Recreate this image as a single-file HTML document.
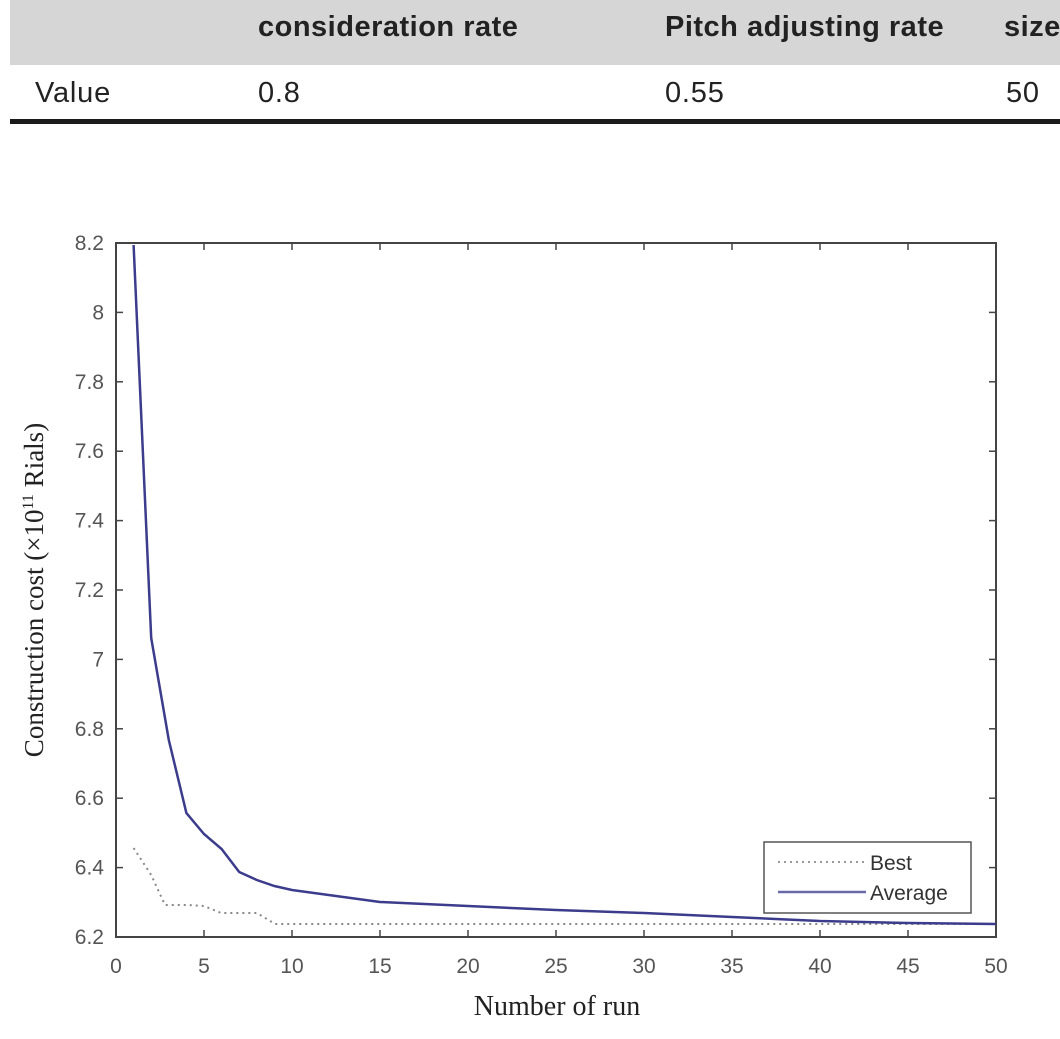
<!DOCTYPE html>
<html><head><meta charset="utf-8"><style>
body{margin:0;background:#fff;width:1060px;height:1039px;overflow:hidden;position:relative;font-family:"Liberation Sans",sans-serif}
.hdr{position:absolute;left:10px;top:0;width:1050px;height:65px;background:#d6d6d6}
.t{position:absolute;font-size:29px;color:#222;white-space:nowrap;letter-spacing:0.8px}
.b{font-weight:bold;letter-spacing:0.5px}
.rule{position:absolute;left:10px;top:119px;width:1050px;height:5px;background:#1a1a1a}
</style></head><body>
<div class="hdr"></div>
<div class="t b" style="left:258px;top:11px">consideration rate</div>
<div class="t b" style="left:665px;top:11px">Pitch adjusting rate</div>
<div class="t b" style="left:1004px;top:11px">size</div>
<div class="t" style="left:35px;top:77px">Value</div>
<div class="t" style="left:258px;top:77px">0.8</div>
<div class="t" style="left:665px;top:77px">0.55</div>
<div class="t" style="left:1006px;top:77px">50</div>
<div class="rule"></div>
<svg width="1060" height="1039" style="position:absolute;left:0;top:0">
<g stroke="#444" stroke-width="2" fill="none">
<rect x="116" y="243" width="880" height="694"/>
</g>
<g stroke="#444" stroke-width="1.5" id="ticks"></g>
<g font-family="Liberation Sans,sans-serif" font-size="21" fill="#555" id="labels"></g>
<polyline fill="none" stroke="#888" stroke-width="2" stroke-dasharray="2,4" points="133.6,848 151.2,875 165,905 187,905 204,906 221,913 240,913 257,913 275,924 996,924"/>
<polyline fill="none" stroke="#3c3c8c" stroke-width="2.5" points="133.6,245 151.2,638 168.8,740 186.4,813 204,834 221.6,849 239.2,872 256.8,880 274.4,886 292,890 380,902 468,906 556,910 644,913 732,917 820,921 908,923 996,924"/>
<rect x="764" y="842" width="207" height="71" fill="#fff" stroke="#555" stroke-width="1.5"/>
<line x1="778" y1="862" x2="866" y2="862" stroke="#999" stroke-width="2" stroke-dasharray="2,4"/>
<line x1="778" y1="892" x2="866" y2="892" stroke="#6a6aaa" stroke-width="2.5"/>
<text x="870" y="870" font-family="Liberation Sans,sans-serif" font-size="21" fill="#333">Best</text>
<text x="870" y="900" font-family="Liberation Sans,sans-serif" font-size="21" fill="#333">Average</text>
<text x="557" y="1015" text-anchor="middle" font-family="Liberation Serif,serif" font-size="28" fill="#222">Number of run</text>
<text transform="translate(43,590) rotate(-90)" text-anchor="middle" font-family="Liberation Serif,serif" font-size="27" fill="#222">Construction cost (×10<tspan font-size="16" dy="-10">11</tspan><tspan dy="10"> Rials)</tspan></text>
</svg>
<script>
var t=document.getElementById('ticks'),l=document.getElementById('labels'),s='',u='';
for(var i=0;i<=10;i++){var x=116+88*i;s+='<line x1="'+x+'" y1="937" x2="'+x+'" y2="930"/><line x1="'+x+'" y1="243" x2="'+x+'" y2="250"/>';u+='<text x="'+x+'" y="973" text-anchor="middle">'+(5*i)+'</text>';}
for(var j=0;j<=10;j++){var y=937-69.4*j;s+='<line x1="116" y1="'+y+'" x2="123" y2="'+y+'"/><line x1="996" y1="'+y+'" x2="989" y2="'+y+'"/>';var v=(6.2+0.2*j);v=Math.round(v*10)/10;u+='<text x="104" y="'+(y+7)+'" text-anchor="end">'+v+'</text>';}
t.innerHTML=s;l.innerHTML=u;
</script>
</body></html>
